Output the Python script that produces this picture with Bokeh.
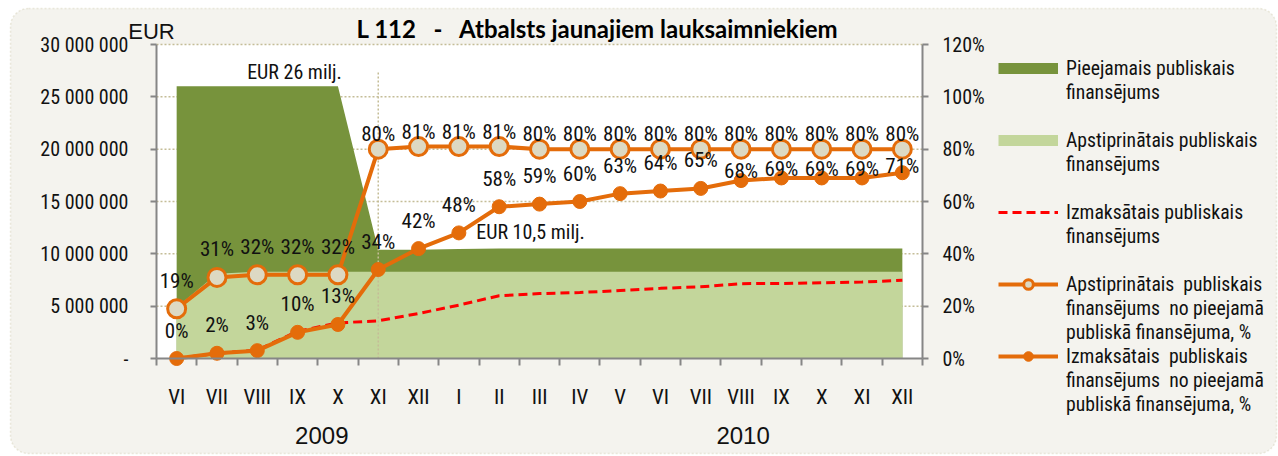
from bokeh.plotting import figure
from bokeh.models import (Range1d, LinearAxis, FixedTicker, Legend, LegendItem, Label,
                          BoxAnnotation)
from bokeh.core.properties import value
from bokeh.embed import file_html
from bokeh.resources import INLINE

# ---------------- data ----------------
months = ["VI", "VII", "VIII", "IX", "X", "XI", "XII", "I", "II", "III", "IV",
          "V", "VI", "VII", "VIII", "IX", "X", "XI", "XII"]
years = ["2009", "2010"]
year_centers = [4.1, 14.55]          # category-axis position of the year captions
# million EUR
available = [26.0, 26.0, 26.0, 26.0, 26.0, 10.4, 10.4, 10.45, 10.5, 10.5, 10.5,
             10.5, 10.5, 10.5, 10.5, 10.5, 10.5, 10.5, 10.5]
approved = [4.9, 8.1, 8.3, 8.3, 8.3, 8.3, 8.3, 8.3, 8.3, 8.3, 8.3,
            8.3, 8.3, 8.3, 8.3, 8.3, 8.3, 8.3, 8.3]
paid = [0.0, 0.5, 0.8, 2.6, 3.4, 3.6, 4.3, 5.1, 6.0, 6.2, 6.3,
        6.5, 6.7, 6.85, 7.15, 7.17, 7.23, 7.3, 7.47]
approved_pct = [19, 31, 32, 32, 32, 80, 81, 81, 81, 80, 80, 80, 80, 80, 80, 80, 80, 80, 80]
paid_pct = [0, 2, 3, 10, 13, 34, 42, 48, 58, 59, 60, 63, 64, 65, 68, 69, 69, 69, 71]
left_ticks = [0, 5, 10, 15, 20, 25, 30]
left_tick_labels = ["-", "5 000 000", "10 000 000", "15 000 000", "20 000 000",
                    "25 000 000", "30 000 000"]
right_ticks = [0, 20, 40, 60, 80, 100, 120]
right_tick_labels = ["0%", "20%", "40%", "60%", "80%", "100%", "120%"]
legend_entries = [
    ["Pieejamais publiskais", "finansējums"],
    ["Apstiprinātais publiskais", "finansējums"],
    ["Izmaksātais publiskais", "finansējums"],
    ["Apstiprinātais  publiskais", "finansējums  no pieejamā", "publiskā finansējuma, %"],
    ["Izmaksātais  publiskais", "finansējums  no pieejamā", "publiskā finansējuma, %"],
]
title_text = "L 112\u00a0\u00a0\u00a0-\u00a0\u00a0\u00a0Atbalsts jaunajiem lauksaimniekiem"

# ---------------- style / layout ----------------
W, H = 1278, 456
FONT = "Liberation Sans Narrow, Roboto Condensed, DejaVu Sans Condensed, sans-serif"
FONT_WIDE = "Liberation Sans, Arial, sans-serif"
DARK_GREEN = "#77933C"
LIGHT_GREEN = "#C3D69B"
ORANGE = "#E46C0A"
MARKER_FILL = "#DDD9C3"
AXIS_COL = "#868686"
GRID_COL = "#C4BD97"
BG = "#F4F3EE"
TXT = "#111111"

n = len(months)
YMAX = 30.0
PL, PR, PT, PB = 156, 922, 44, 358          # plot-area edges in canvas pixels
KX = (PR - PL) / n
KY = (PB - PT) / YMAX


def X(px):
    return (px - PL) / KX


def Y(py):
    return (PB - py) / KY


xc = [i + 0.5 for i in range(n)]

p = figure(width=W, height=H, x_range=Range1d(X(0), X(W)), y_range=Range1d(Y(H), Y(0)),
           x_axis_location=None, y_axis_location=None,
           toolbar_location=None, output_backend="svg", min_border=0,
           background_fill_color="white", border_fill_color="white",
           outline_line_color=None)
p.title.visible = False
p.grid.visible = False
p.extra_y_ranges = {"pct": Range1d(Y(H) * 4, Y(0) * 4)}

# rounded chart background
p.add_layout(BoxAnnotation(left=X(10), right=X(1276), top=Y(8), bottom=Y(453),
                           fill_color=BG, fill_alpha=1, line_color=GRID_COL,
                           line_dash="2 2", line_width=1.5, border_radius=18,
                           level="underlay"))

# white plot area + grid
p.quad(left=[0], right=[n], bottom=[0], top=[YMAX], fill_color="white", line_color=None)
p.segment(x0=[0] * 6, x1=[n] * 6, y0=left_ticks[1:], y1=left_ticks[1:],
          line_color=GRID_COL, line_dash="2 2", line_width=1.5)

# areas
p.varea(x=xc, y1=0, y2=available, fill_color=DARK_GREEN)
p.varea(x=xc, y1=0, y2=approved, fill_color=LIGHT_GREEN)

# vertical dotted marker line at XI
p.segment(x0=[xc[5]], y0=[0], x1=[xc[5]], y1=[Y(72)], line_color=GRID_COL,
          line_dash="2 2", line_width=1.5)

# paid (EUR) dashed
r_paid = p.line(x=xc, y=paid, line_color="#FF0000", line_width=3, line_dash="9 5")

# percentage lines
r_pl = p.line(x=xc, y=paid_pct, y_range_name="pct", line_color=ORANGE, line_width=4)
r_ps = p.scatter(x=xc, y=paid_pct, y_range_name="pct", size=14,
                 fill_color=ORANGE, line_color=ORANGE)
r_al = p.line(x=xc, y=approved_pct, y_range_name="pct", line_color=ORANGE, line_width=4)
r_as = p.scatter(x=xc, y=approved_pct, y_range_name="pct", size=18,
                 fill_color=MARKER_FILL, line_color=ORANGE, line_width=3)

# legend proxies for the two areas (zero-length lines, shown as thick bars in the legend)
r_leg_avail = p.line(x=[xc[0], xc[0]], y=[0, 0], line_color=DARK_GREEN, line_width=11)
r_leg_appr = p.line(x=[xc[0], xc[0]], y=[0, 0], line_color=LIGHT_GREEN, line_width=11)

# data labels
appr_dy = [-28 if v < 50 else -15 for v in approved_pct]
paid_dy = [-28 if a - v >= 13 else -(a - v - 2) for a, v in zip(approved_pct, paid_pct)]
p.text(x=xc, y=approved_pct, text=[f"{v}%" for v in approved_pct], y_range_name="pct",
       y_offset=appr_dy, text_align="center", text_baseline="middle",
       text_font=value(FONT), text_font_size="21px", text_color=TXT)
p.text(x=xc, y=paid_pct, text=[f"{v}%" for v in paid_pct], y_range_name="pct",
       y_offset=paid_dy, text_align="center", text_baseline="middle",
       text_font=value(FONT), text_font_size="21px", text_color=TXT)

# axes (pinned at the plot-area edges)
yax = LinearAxis(fixed_location=0, bounds=(0, YMAX), ticker=FixedTicker(ticks=left_ticks),
                 major_label_overrides={t: l for t, l in zip(left_ticks, left_tick_labels)})
yax2 = LinearAxis(y_range_name="pct", fixed_location=n, bounds=(0, 120),
                  ticker=FixedTicker(ticks=right_ticks),
                  major_label_overrides={t: l for t, l in zip(right_ticks, right_tick_labels)})
for ax, st in ((yax, 22), (yax2, 14)):
    ax.axis_line_color = AXIS_COL
    ax.axis_line_width = 2
    ax.major_tick_line_color = AXIS_COL
    ax.major_tick_line_width = 2
    ax.major_tick_out = 6
    ax.major_tick_in = 0
    ax.minor_tick_line_color = None
    ax.major_label_text_font = FONT
    ax.major_label_text_font_size = "20px"
    ax.major_label_text_color = TXT
    ax.major_label_standoff = st
p.add_layout(yax, "left")
p.add_layout(yax2, "right")

xax = LinearAxis(fixed_location=0, bounds=(0, n),
                 ticker=FixedTicker(ticks=xc, minor_ticks=list(range(n + 1))),
                 major_label_overrides={x: m for x, m in zip(xc, months)})
xax.axis_line_color = AXIS_COL
xax.axis_line_width = 2
xax.major_tick_line_color = None
xax.major_tick_out = 0
xax.major_tick_in = 0
xax.minor_tick_line_color = AXIS_COL
xax.minor_tick_line_width = 2
xax.minor_tick_out = 7
xax.minor_tick_in = 0
xax.major_label_text_font = FONT
xax.major_label_text_font_size = "21px"
xax.major_label_text_color = TXT
xax.major_label_standoff = 19
p.add_layout(xax, "below")

yrax = LinearAxis(fixed_location=0, ticker=FixedTicker(ticks=year_centers),
                  major_label_overrides={x: y for x, y in zip(year_centers, years)})
yrax.axis_line_color = None
yrax.major_tick_line_color = None
yrax.minor_tick_line_color = None
yrax.major_tick_out = 0
yrax.major_label_text_font = FONT_WIDE
yrax.major_label_text_font_size = "24px"
yrax.major_label_text_color = TXT
yrax.major_label_standoff = 68
p.add_layout(yrax, "below")

# annotations
p.add_layout(Label(x=X(294), y=Y(71), text="EUR 26 milj.", text_align="center",
                   text_baseline="middle", text_font=FONT, text_font_size="20px",
                   text_color=TXT))
p.add_layout(Label(x=X(530), y=Y(231), text="EUR 10,5 milj.", text_align="center",
                   text_baseline="middle", text_font=FONT, text_font_size="20px",
                   text_color=TXT))
p.add_layout(Label(x=X(151), y=Y(31), text="EUR", text_align="center",
                   text_baseline="middle", text_font=FONT_WIDE, text_font_size="22px",
                   text_color=TXT))
p.add_layout(Label(x=X(597), y=Y(28), text=title_text,
                   text_align="center", text_baseline="middle", text_font="Lato",
                   text_font_style="bold", text_font_size="24px", text_color="#000000"))

# legend: one row per text line, blank row after each two-line entry
glyphs = [[r_leg_avail], [r_leg_appr], [r_paid], [r_al, r_as], [r_pl, r_ps]]
items = []
for lines, rs in zip(legend_entries, glyphs):
    for j, line in enumerate(lines):
        items.append(LegendItem(label=line, renderers=rs if j == 0 else []))
    if len(lines) == 2:
        items.append(LegendItem(label=" ", renderers=[]))
ROW = 24
legend = Legend(items=items, location=(998, H - 56 - ROW * len(items)))
legend.label_text_font = FONT
legend.label_text_font_size = "19.7px"
legend.label_text_color = TXT
legend.glyph_width = 60
legend.glyph_height = ROW
legend.label_height = ROW
legend.label_standoff = 8
legend.spacing = 0
legend.padding = 0
legend.margin = 0
legend.border_line_color = None
legend.background_fill_alpha = 0
p.add_layout(legend, "center")

open("out.html", "w").write(file_html(p, INLINE))
